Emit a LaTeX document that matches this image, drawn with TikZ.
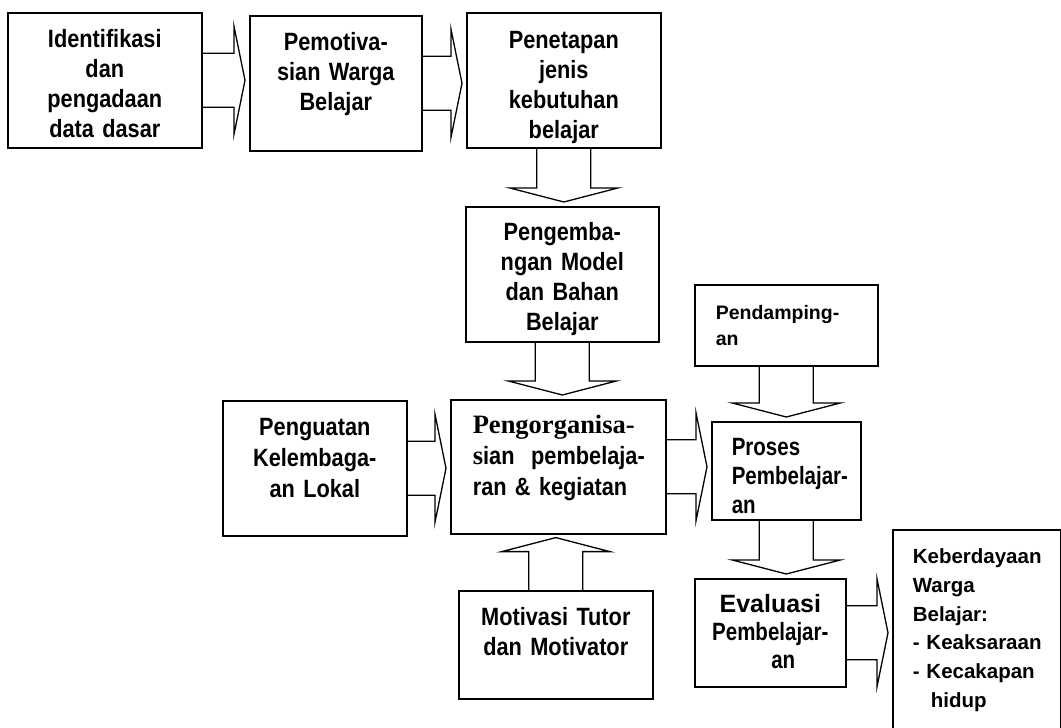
\documentclass[tikz,border=0pt]{standalone}
\usepackage{fontspec}
\setmainfont{Liberation Sans}
\newfontfamily\boxfont{Liberation Sans}[FakeStretch=0.87]
\newfontfamily\narrowfont{Liberation Sans}[FakeStretch=0.82]
\newfontfamily\plainfont{Liberation Sans}
\newfontfamily\serifbold{Liberation Serif}
\usetikzlibrary{calc}

\tikzset{
  box/.style={draw, line width=1.6pt, inner sep=0pt, anchor=north west,
    font=\boxfont\bfseries\fontsize{25}{30}\selectfont},
  centerbox/.style={box, align=center},
  blockarrow/.style={draw, line width=1.3pt, line join=miter},
}

% block arrows: right, down and up
\newcommand{\blockright}[2]{%
  \draw[blockarrow] ($(#1.east)+(0,-27)$) -- ($(#2.west |- #1.east)+(-15,-27)$) -- ++(0,-27)
    -- ($(#2.west |- #1.east)+(-4,0)$) -- ($(#2.west |- #1.east)+(-15,54)$) -- ++(0,-27)
    -- ($(#1.east)+(0,27)$);}
\newcommand{\blockdown}[2]{%
  \draw[blockarrow] ($(#1.south)+(-27,0)$) -- ($(#1.south |- #2.north)+(-27,-18)$) -- ++(-27,0)
    -- ($(#1.south |- #2.north)+(0,-4)$) -- ($(#1.south |- #2.north)+(54,-18)$) -- ++(-27,0)
    -- ($(#1.south)+(27,0)$);}
\newcommand{\blockup}[2]{%
  \draw[blockarrow] ($(#1.north)+(-27,0)$) -- ($(#1.north |- #2.south)+(-27,17)$) -- ++(-27,0)
    -- ($(#1.north |- #2.south)+(0,3)$) -- ($(#1.north |- #2.south)+(54,17)$) -- ++(-27,0)
    -- ($(#1.north)+(27,0)$);}

\begin{document}
\begin{tikzpicture}[x=1pt, y=-1pt]
\useasboundingbox (0,0) rectangle (1061,728);
% boxes
\node[centerbox, text width=194pt, text height=35pt, text depth=100pt] (ident) at (7,12) {Identifikasi\\dan\\pengadaan\\data dasar};
\node[centerbox, text width=172pt, text height=35pt, text depth=100pt] (motiv) at (249,15) {Pemotiva-\\sian Warga\\Belajar};
\node[centerbox, text width=194pt, text height=36pt, text depth=99pt] (tetap) at (466,12) {Penetapan\\jenis\\kebutuhan\\belajar};
\node[centerbox, text width=193pt, text height=34pt, text depth=101pt] (kembang) at (465,206) {Pengemba-\\ngan Model\\dan Bahan\\Belajar};
\node[centerbox, text width=184pt, text height=35pt, text depth=100pt, font=\boxfont\bfseries\fontsize{25}{31}\selectfont] (kuat) at (222,400) {Penguatan\\Kelembaga-\\an Lokal};
\node[box, text width=215pt, text height=34pt, text depth=100pt, font=\boxfont\bfseries\fontsize{25}{31}\selectfont] (organ) at (450,399)
  {\leftskip=22pt{\serifbold\fontsize{26.5}{31}\selectfont Pengorganisa-}\\{\serifbold\fontsize{26.5}{31}\selectfont s}ian\ \ pembelaja-\\ran \& kegiatan\par};
\node[box, text width=183pt, text height=35pt, text depth=46pt, font=\plainfont\bfseries\fontsize{19.5}{26}\selectfont] (pendamp) at (694,284) {\leftskip=21pt Pendamping-\\an\par};
\node[box, text width=149pt, text height=34pt, text depth=64pt, font=\narrowfont\bfseries\fontsize{25}{29}\selectfont] (proses) at (711,421) {\leftskip=20pt Proses\\Pembelajar-\\an\par};
\node[centerbox, text width=194pt, text height=35pt, text depth=73pt] (tutor) at (458,590) {Motivasi Tutor\\dan Motivator};
\node[centerbox, text width=151pt, text height=34pt, text depth=74pt, font=\narrowfont\bfseries\fontsize{25}{28}\selectfont] (eval) at (694,578)
  {{\plainfont Evaluasi}\\Pembelajar-\\\hspace*{26pt}an};
\node[box, text width=168pt, text height=34pt, text depth=171pt, font=\plainfont\bfseries\fontsize{20.5}{28.7}\selectfont] (keber) at (892,529)
  {\leftskip=20pt Keberdayaan\\Warga\\Belajar:\\- Keaksaraan\\- Kecakapan\\\hspace*{18pt}hidup\par};
% arrows
\blockright{ident}{motiv}
\blockright{motiv}{tetap}
\blockdown{tetap}{kembang}
\blockdown{kembang}{organ}
\blockright{kuat}{organ}
\blockright{organ}{proses}
\blockdown{pendamp}{proses}
\blockup{tutor}{organ}
\blockdown{proses}{eval}
\blockright{eval}{keber}
\end{tikzpicture}
\end{document}
